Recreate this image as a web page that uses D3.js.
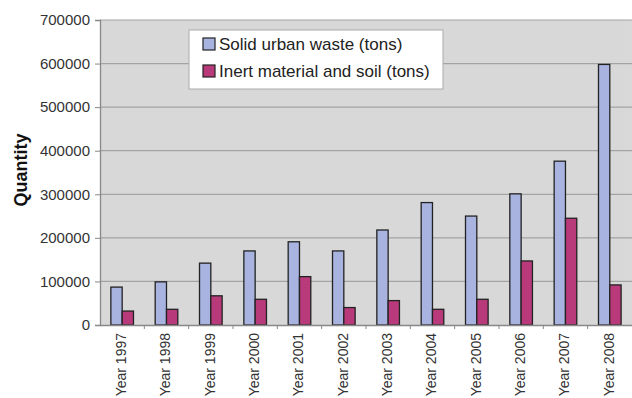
<!DOCTYPE html>
<html>
<head>
<meta charset="utf-8">
<script src="https://cdn.jsdelivr.net/npm/d3@7"></script>
<style>
  html, body { margin: 0; padding: 0; background: #fff; }
  svg { display: block; font-family: "Liberation Sans", Arial, sans-serif; }
</style>
</head>
<body>
<svg id="chart" width="632" height="398"></svg>
<script>
// Annual quantities collected, in tons
const years = ["Year 1997", "Year 1998", "Year 1999", "Year 2000", "Year 2001", "Year 2002",
               "Year 2003", "Year 2004", "Year 2005", "Year 2006", "Year 2007", "Year 2008"];
const solidUrbanWaste = [87000, 99000, 142000, 170000, 191000, 170000,
                         218000, 281000, 250000, 301000, 376000, 598000];
const inertMaterialSoil = [32000, 36000, 67000, 59000, 111000, 40000,
                           56000, 36000, 59000, 147000, 245000, 92000];
const yTicks = [0, 100000, 200000, 300000, 400000, 500000, 600000, 700000];
const seriesNames = ["Solid urban waste (tons)", "Inert material and soil (tons)"];
const seriesColors = ["#a8b3e0", "#b93a7b"];

const svg = d3.select("#chart");
const margin = { left: 100, top: 20, right: 0, bottom: 73 };
const W = 632, H = 398;
const plotW = 12 * 44.33;
const plotH = H - margin.top - margin.bottom;

const x = d3.scaleBand().domain(years).range([margin.left, margin.left + plotW]).paddingInner(0).paddingOuter(0);
const inner = d3.scaleBand().domain([0, 1]).range([0, x.bandwidth()]).paddingInner(0).paddingOuter(0.96);
const y = d3.scaleLinear().domain([0, 700000]).range([margin.top + plotH, margin.top]);

// plot area background
svg.append("rect")
  .attr("x", margin.left).attr("y", margin.top)
  .attr("width", plotW).attr("height", plotH)
  .attr("fill", "#d8d8d8");

// horizontal gridlines
svg.append("g").selectAll("line").data(yTicks.slice(1)).join("line")
  .attr("x1", margin.left).attr("x2", margin.left + plotW)
  .attr("y1", d => y(d)).attr("y2", d => y(d))
  .attr("stroke", "#a3a3a3").attr("stroke-width", 1.2);

// bars
const groups = svg.append("g").selectAll("g").data(years).join("g")
  .attr("transform", d => `translate(${x(d)},0)`);
[solidUrbanWaste, inertMaterialSoil].forEach((vals, s) => {
  groups.append("rect")
    .attr("x", inner(s))
    .attr("width", inner.bandwidth())
    .attr("y", (d, i) => y(vals[i]))
    .attr("height", (d, i) => y(0) - y(vals[i]))
    .attr("fill", seriesColors[s])
    .attr("stroke", "#222")
    .attr("stroke-width", 1.3);
});

// y axis
const yAxis = svg.append("g")
  .attr("transform", `translate(${margin.left},0)`)
  .call(d3.axisLeft(y).tickValues(yTicks).tickFormat(d3.format("d")).tickSizeOuter(0).tickSize(5).tickPadding(5));
yAxis.select(".domain").attr("stroke", "#888").attr("stroke-width", 1.3);
yAxis.selectAll(".tick line").attr("stroke", "#888");
yAxis.selectAll("text").attr("font-size", 15).attr("fill", "#333");

// x axis
const xAxis = svg.append("g")
  .attr("transform", `translate(0,${y(0)})`)
  .call(d3.axisBottom(x).tickSize(0).tickSizeOuter(0));
xAxis.select(".domain").attr("stroke", "#888").attr("stroke-width", 1.3);
xAxis.selectAll("text")
  .attr("font-size", 14).attr("fill", "#333")
  .attr("transform", "rotate(-90)")
  .attr("text-anchor", "end")
  .attr("x", -8).attr("y", -1).attr("dy", "0.35em");
// category separator ticks
svg.append("g").selectAll("line").data(years.slice(1)).join("line")
  .attr("x1", d => x(d)).attr("x2", d => x(d))
  .attr("y1", y(0)).attr("y2", y(0) + 4)
  .attr("stroke", "#888");

// y axis title
svg.append("text")
  .attr("transform", "translate(27,170) rotate(-90)")
  .attr("text-anchor", "middle")
  .attr("font-size", 18).attr("font-weight", "bold").attr("fill", "#111")
  .text("Quantity");

// legend
const lg = svg.append("g").attr("transform", "translate(189,30)");
lg.append("rect").attr("width", 254).attr("height", 59)
  .attr("fill", "#fff").attr("stroke", "#aaa");
seriesNames.forEach((name, i) => {
  lg.append("rect")
    .attr("x", 14).attr("y", 8 + i * 27)
    .attr("width", 12).attr("height", 12)
    .attr("fill", seriesColors[i]).attr("stroke", "#222").attr("stroke-width", 1.2);
  lg.append("text")
    .attr("x", 30).attr("y", 19.5 + i * 27)
    .attr("font-size", 17).attr("fill", "#222")
    .text(name);
});
</script>
</body>
</html>
